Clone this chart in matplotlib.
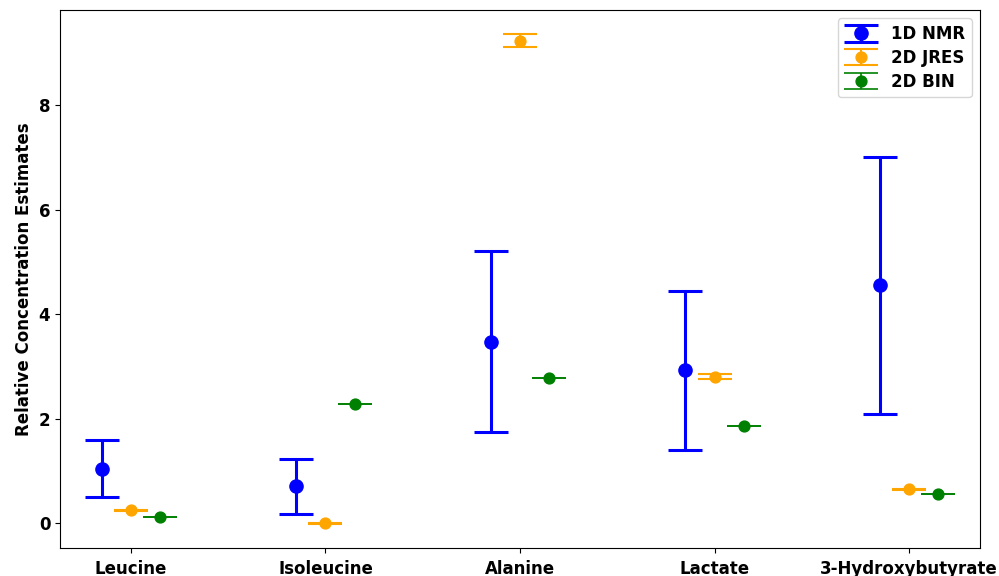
import numpy as np
import matplotlib.pyplot as plt

metabolites = ['Leucine', 'Isoleucine', 'Alanine', 'Lactate', '3-Hydroxybutyrate']

nmr_1d = [1.04, 0.70, 3.47, 2.92, 4.55]
nmr_1d_err = [0.55, 0.52, 1.73, 1.52, 2.46]

jres_2d = [0.24, 0.0, 9.23, 2.80, 0.65]
jres_2d_err = [0.01, 0.01, 0.12, 0.05, 0.01]

bin_2d = [0.12, 2.28, 2.78, 1.86, 0.55]
bin_2d_err = [0.0, 0.0, 0.0, 0.0, 0.0]

plt.rcParams['font.weight'] = 'bold'
plt.rcParams['axes.labelweight'] = 'bold'

x = np.arange(len(metabolites))
offset = 0.15

fig = plt.figure(figsize=(9.99, 5.76), dpi=100)
ax = fig.add_axes([60 / 999, 28 / 576, 920 / 999, 538 / 576])

ax.errorbar(x - offset, nmr_1d, yerr=nmr_1d_err, fmt='o', color='blue',
            markersize=9.5, elinewidth=2.2, capsize=12, capthick=2.2, label='1D NMR')
ax.errorbar(x, jres_2d, yerr=jres_2d_err, fmt='o', color='orange',
            markersize=7.8, elinewidth=1.5, capsize=12, capthick=1.5, label='2D JRES')
ax.errorbar(x + offset, bin_2d, yerr=bin_2d_err, fmt='o', color='green',
            markersize=7.8, elinewidth=1.2, capsize=12, capthick=1.2, label='2D BIN')

ax.set_xticks(x)
ax.set_xticklabels(metabolites, fontsize=12, fontweight='bold')
ax.tick_params(axis='y', labelsize=12)
ax.tick_params(axis='x', pad=5)
ax.set_ylabel('Relative Concentration Estimates', fontsize=12, fontweight='bold')
ax.legend(loc='upper right', prop={'weight': 'bold', 'size': 12}, labelspacing=0.35)

fig.savefig('out.png', dpi=100)
